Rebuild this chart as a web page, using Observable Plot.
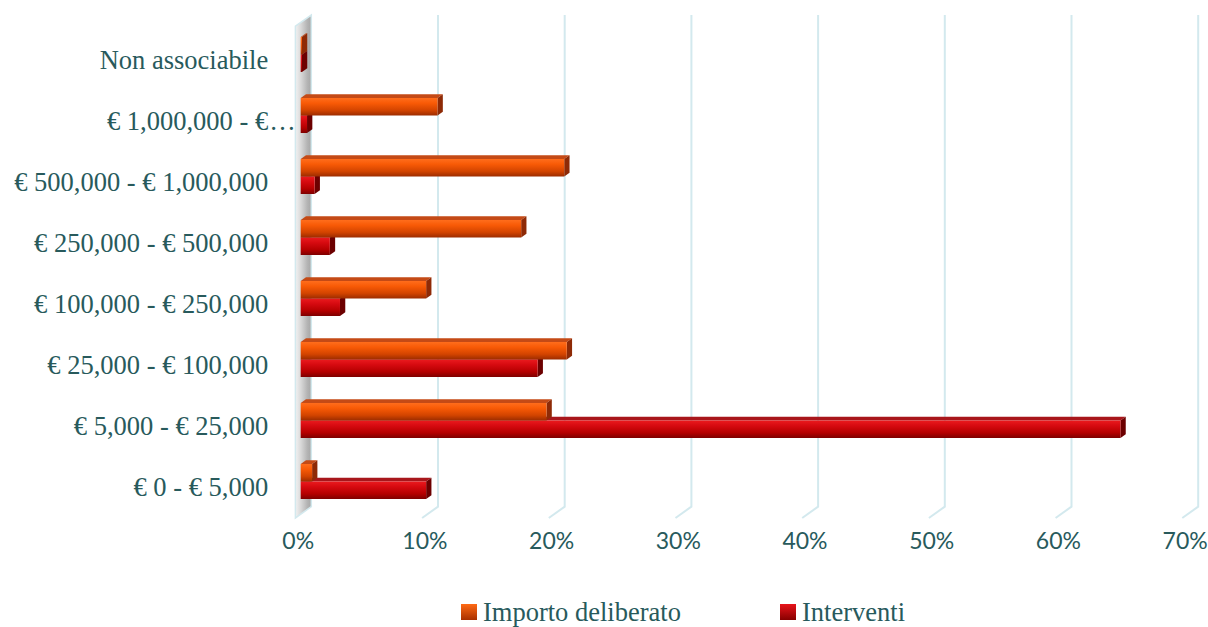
<!DOCTYPE html>
<html>
<head>
<meta charset="utf-8">
<script src="https://cdn.jsdelivr.net/npm/d3@7"></script>
<script src="https://cdn.jsdelivr.net/npm/@observablehq/plot@0.6"></script>
<style>
  body { margin: 0; background: #fff; }
  #legend { display: flex; align-items: center; height: 32px; margin-top: 16px; padding-left: 461px;
            font-family: "Liberation Serif", serif; font-size: 26.5px; color: #285a5c; }
  .item { display: flex; align-items: center; }
  .item:first-child { width: 319px; }
  .sw { width: 16px; height: 16px; margin-right: 6px; }
</style>
</head>
<body>
<div id="chart"></div>
<div id="legend"></div>
<script>
// ---- data ----
const categories = [
  "Non associabile",
  "€ 1,000,000 - €…",
  "€ 500,000 - € 1,000,000",
  "€ 250,000 - € 500,000",
  "€ 100,000 - € 250,000",
  "€ 25,000 - € 100,000",
  "€ 5,000 - € 25,000",
  "€ 0 - € 5,000"
];
const series = ["Importo deliberato", "Interventi"];
const importoDeliberato = [0.1, 10.8, 20.8, 17.4, 9.9, 21.0, 19.4, 0.9];
const interventi = [0.1, 0.5, 1.1, 2.3, 3.1, 18.7, 64.7, 9.9];
const tickValues = [0, 10, 20, 30, 40, 50, 60, 70];
const tickLabels = ["0%", "10%", "20%", "30%", "40%", "50%", "60%", "70%"];

// ---- styles ----
const textColor = "#285a5c";
const gridColor = "#d3e9ee";
const palette = {
  "Importo deliberato": {front: "url(#gImp)", top: "#c44a16", side: "#8e2a06", sw: ["#ff6a14", "#a83000"]},
  "Interventi": {front: "url(#gInt)", top: "#a8161b", side: "#6c0000", sw: ["#e8141a", "#860000"]}
};
const dX = 5.3, dY = 3.7; // bar depth offsets (px)

const rows = [];
categories.forEach((c, i) => {
  rows.push({category: c, series: series[0], value: importoDeliberato[i]});
  rows.push({category: c, series: series[1], value: interventi[i]});
});
const rowsOf = s => rows.filter(r => r.series === s);

// defs (gradients)
function defsMark() {
  const g = d3.create("svg:g");
  const defs = g.append("defs");
  const lg = (id, stops, horiz) => {
    const el = defs.append("linearGradient").attr("id", id)
      .attr("x1", 0).attr("y1", 0).attr("x2", horiz ? 1 : 0).attr("y2", horiz ? 0 : 1);
    stops.forEach(([o, c]) => el.append("stop").attr("offset", o).attr("stop-color", c));
  };
  lg("gImp", [[0, "#ff6d1c"], [0.3, "#f85a06"], [0.7, "#d34400"], [1, "#9c2c00"]]);
  lg("gInt", [[0, "#ea1a1e"], [0.3, "#d60a10"], [0.7, "#b50000"], [1, "#7e0000"]]);
  lg("gWall", [[0, "#f2f2f2"], [0.35, "#d8d8d8"], [0.75, "#b4b4b4"], [1, "#a6a6a6"]], true);
  return g.node();
}

// back wall, floor gridlines and left wall
function wallMark(index, scales, values, dims) {
  const {x} = scales;
  const top = dims.marginTop, bottom = dims.height - dims.marginBottom;
  const g = d3.create("svg:g");
  const backTop = top - 7.5, backBot = bottom - 6.3, frontBot = bottom + 5;
  for (const t of tickValues) {
    if (t === 0) continue;
    g.append("path")
      .attr("d", `M${x(t) + 2 * dX},${backTop}V${backBot}L${x(t) - dX},${frontBot}`)
      .attr("fill", "none").attr("stroke", gridColor).attr("stroke-width", 2);
  }
  const x0 = x(0);
  g.append("path")
    .attr("d", `M${x0 - dX},${frontBot}V${backTop + 3 * dY}L${x0 + 2 * dX},${backTop}V${backBot}Z`)
    .attr("fill", "url(#gWall)").attr("stroke", gridColor).attr("stroke-width", 1.5);
  return g.node();
}

// top & side faces for a series
function facesMark(s, upper) {
  return (index, scales, values, dims) => {
    const {x, y} = scales;
    const half = y.bandwidth() / 2;
    const g = d3.create("svg:g");
    for (const r of rowsOf(s)) {
      const x0 = x(0), x1 = x(r.value);
      const y0 = y(r.category) + (upper ? 0 : half), y1 = y0 + half;
      g.append("path")
        .attr("d", `M${x0},${y0}L${x1},${y0}L${x1 + dX},${y0 - dY}L${x0 + dX},${y0 - dY}Z`)
        .attr("fill", palette[s].top);
      g.append("path")
        .attr("d", `M${x1},${y0}L${x1 + dX},${y0 - dY}L${x1 + dX},${y1 - dY}L${x1},${y1}Z`)
        .attr("fill", palette[s].side);
    }
    return g.node();
  };
}

const half = 17.5;
const labelFont = {fill: textColor, fontFamily: "Liberation Serif", fontSize: 26.5};

const chart = Plot.plot({
  width: 1208,
  height: 580,
  marginLeft: 300.7,
  marginRight: 20.4,
  marginTop: 22.55,
  marginBottom: 67.05,
  x: {domain: [0, 70], axis: null},
  y: {domain: categories, paddingInner: 0.429, paddingOuter: 0.2145, axis: null},
  marks: [
    defsMark,
    wallMark,
    facesMark("Interventi", false),
    Plot.barX(rowsOf("Interventi"), {x1: 0, x2: "value", y: "category", fill: palette["Interventi"].front, insetTop: half}),
    facesMark("Importo deliberato", true),
    Plot.barX(rowsOf("Importo deliberato"), {x1: 0, x2: "value", y: "category", fill: palette["Importo deliberato"].front, insetBottom: half}),
    Plot.text(categories, {y: d => d, text: d => d.replace(/…$/, ""), frameAnchor: "left", textAnchor: "end", dx: -33, dy: 6, ...labelFont}),
    Plot.text(categories.filter(d => d.endsWith("…")), {y: d => d, text: () => "…", frameAnchor: "left", textAnchor: "start", dx: -32, dy: 6, ...labelFont}),
    Plot.text(tickValues, {x: d => d, frameAnchor: "bottom", dy: 36, dx: -3, text: (d, i) => tickLabels[i],
      fill: textColor, fontFamily: "Lato", fontSize: 23})
  ]
});
document.getElementById("chart").appendChild(chart);

const legend = document.getElementById("legend");
series.forEach(s => {
  const it = document.createElement("div");
  it.className = "item";
  const sw = document.createElement("div");
  sw.className = "sw";
  sw.style.background = `linear-gradient(${palette[s].sw[0]}, ${palette[s].sw[1]})`;
  const tx = document.createElement("span");
  tx.textContent = s;
  it.appendChild(sw); it.appendChild(tx);
  legend.appendChild(it);
});
</script>
</body>
</html>
